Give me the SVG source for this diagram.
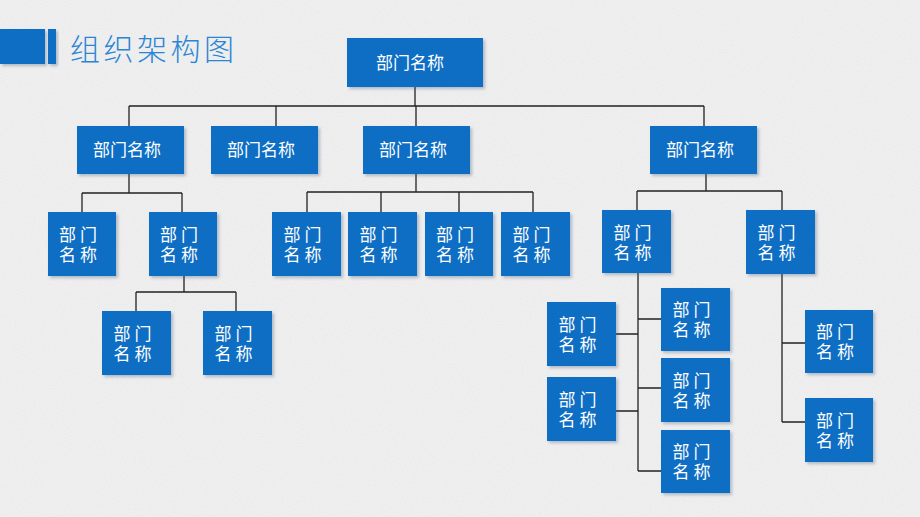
<svg xmlns="http://www.w3.org/2000/svg" width="920" height="517" viewBox="0 0 920 517">
<defs>
<filter id="sh" x="-20%" y="-20%" width="150%" height="150%">
<feDropShadow dx="2" dy="2" stdDeviation="1.5" flood-color="#3a5a7a" flood-opacity="0.35"/>
</filter>
<filter id="tex" x="0" y="0" width="100%" height="100%">
<feTurbulence type="fractalNoise" baseFrequency="0.9" numOctaves="2" seed="3" result="n"/>
<feColorMatrix in="n" type="matrix" values="0 0 0 0 0.55  0 0 0 0 0.55  0 0 0 0 0.55  0 0 0 -0.9 0.55"/>
</filter>
</defs>
<style>
.b{fill:#0A6EC4;filter:url(#sh)}
.t{fill:#fff;font-family:"Noto Sans CJK SC","Noto Sans",sans-serif;font-size:17px;text-anchor:middle}
.s{letter-spacing:4px}
.c{stroke:#222;stroke-width:1.3;fill:none}
</style>
<rect width="920" height="517" fill="#EFEFEF"/>
<rect width="920" height="517" filter="url(#tex)" opacity="0.3"/>
<g id="title">
<rect x="0" y="29" width="45" height="35" fill="#0A6EC4" filter="url(#sh)"/>
<rect x="48" y="29" width="8" height="35" fill="#0A6EC4" filter="url(#sh)"/>
<text x="70" y="60" font-family="Noto Sans CJK SC,sans-serif" font-size="30" font-weight="300" letter-spacing="3.5" fill="#2A85D4">组织架构图</text>
</g>
<g id="connectors" class="c">
<path d="M415,87V106M129,106H704M129,106V126M276,106V126M416,106V126M704,106V126"/>
<path d="M129,174V193M82,193H182M82,193V212M182,193V212"/>
<path d="M184,276V292M136,292H236M136,292V311M236,292V311"/>
<path d="M416,174V192M307,192H533M307,192V212M381,192V212M459,192V212M533,192V212"/>
<path d="M706,174V191M637,191H782M637,191V210M782,191V210"/>
<path d="M638,273V471M638,319H661M638,388H661M638,471H661M616,334H638M616,411H638"/>
<path d="M782,274V422M782,343H805M782,422H805"/>
</g>
<g id="n0"><rect class="b" x="347" y="38" width="136" height="49"/><text class="t" x="410" y="69">部门名称</text></g>
<g id="n1"><rect class="b" x="77" y="126" width="107" height="48"/><text class="t" x="127" y="156">部门名称</text></g>
<g id="n2"><rect class="b" x="211" y="126" width="107" height="48"/><text class="t" x="261" y="156">部门名称</text></g>
<g id="n3"><rect class="b" x="363" y="126" width="107" height="48"/><text class="t" x="413" y="156">部门名称</text></g>
<g id="n4"><rect class="b" x="650" y="126" width="107" height="48"/><text class="t" x="700" y="156">部门名称</text></g>
<g id="n11"><rect class="b" x="48" y="212" width="68" height="64"/><text class="t s"><tspan x="80" y="241">部门</tspan><tspan x="80" y="261">名称</tspan></text></g>
<g id="n12"><rect class="b" x="149" y="212" width="68" height="64"/><text class="t s"><tspan x="181" y="241">部门</tspan><tspan x="181" y="261">名称</tspan></text></g>
<g id="n121"><rect class="b" x="102" y="311" width="69" height="64"/><text class="t s"><tspan x="134.5" y="340">部门</tspan><tspan x="134.5" y="360">名称</tspan></text></g>
<g id="n122"><rect class="b" x="203" y="311" width="69" height="64"/><text class="t s"><tspan x="235.5" y="340">部门</tspan><tspan x="235.5" y="360">名称</tspan></text></g>
<g id="n31"><rect class="b" x="272" y="212" width="69" height="64"/><text class="t s"><tspan x="304.5" y="241">部门</tspan><tspan x="304.5" y="261">名称</tspan></text></g>
<g id="n32"><rect class="b" x="348" y="212" width="69" height="64"/><text class="t s"><tspan x="380.5" y="241">部门</tspan><tspan x="380.5" y="261">名称</tspan></text></g>
<g id="n33"><rect class="b" x="425" y="212" width="68" height="64"/><text class="t s"><tspan x="457" y="241">部门</tspan><tspan x="457" y="261">名称</tspan></text></g>
<g id="n34"><rect class="b" x="501" y="212" width="69" height="64"/><text class="t s"><tspan x="533.5" y="241">部门</tspan><tspan x="533.5" y="261">名称</tspan></text></g>
<g id="n41"><rect class="b" x="602" y="210" width="69" height="63"/><text class="t s"><tspan x="634.5" y="239">部门</tspan><tspan x="634.5" y="259">名称</tspan></text></g>
<g id="n42"><rect class="b" x="746" y="210" width="69" height="64"/><text class="t s"><tspan x="778.5" y="239">部门</tspan><tspan x="778.5" y="259">名称</tspan></text></g>
<g id="n411"><rect class="b" x="661" y="288" width="69" height="63"/><text class="t s"><tspan x="693.5" y="316">部门</tspan><tspan x="693.5" y="336">名称</tspan></text></g>
<g id="n412"><rect class="b" x="661" y="358" width="69" height="64"/><text class="t s"><tspan x="693.5" y="387">部门</tspan><tspan x="693.5" y="407">名称</tspan></text></g>
<g id="n413"><rect class="b" x="661" y="430" width="69" height="63"/><text class="t s"><tspan x="693.5" y="458">部门</tspan><tspan x="693.5" y="478">名称</tspan></text></g>
<g id="n414"><rect class="b" x="547" y="302" width="69" height="64"/><text class="t s"><tspan x="579.5" y="331">部门</tspan><tspan x="579.5" y="351">名称</tspan></text></g>
<g id="n415"><rect class="b" x="547" y="377" width="69" height="64"/><text class="t s"><tspan x="579.5" y="406">部门</tspan><tspan x="579.5" y="426">名称</tspan></text></g>
<g id="n421"><rect class="b" x="805" y="310" width="68" height="63"/><text class="t s"><tspan x="837" y="338">部门</tspan><tspan x="837" y="358">名称</tspan></text></g>
<g id="n422"><rect class="b" x="805" y="398" width="68" height="64"/><text class="t s"><tspan x="837" y="427">部门</tspan><tspan x="837" y="447">名称</tspan></text></g>
</svg>
